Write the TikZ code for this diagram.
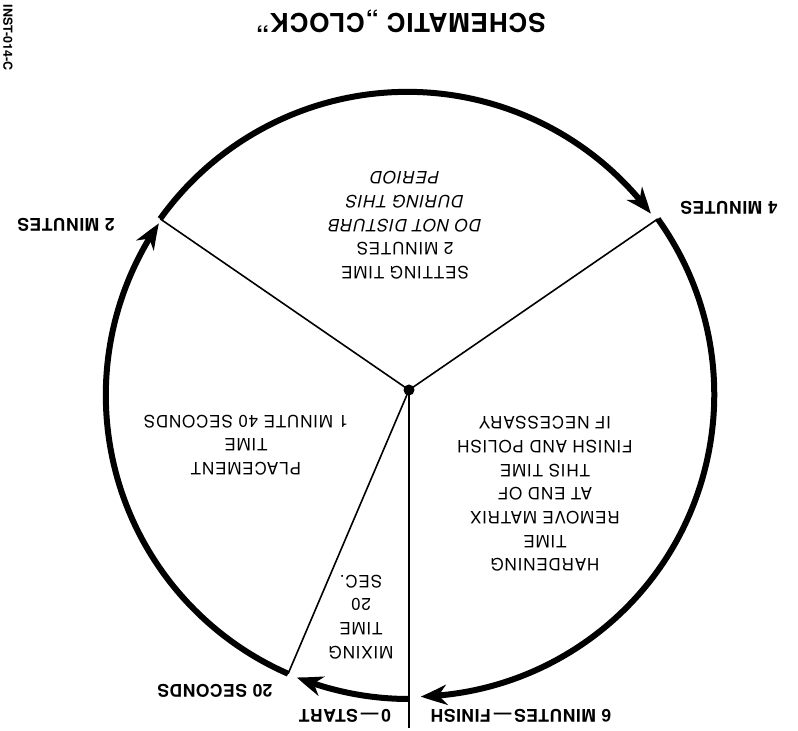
\documentclass[tikz,border=0pt]{standalone}
\usepackage{fontspec}
\setmainfont{TeX Gyre Heros}
\newfontfamily\bodyfont[LetterSpace=5]{TeX Gyre Heros}
\newfontfamily\lblfont[LetterSpace=3]{TeX Gyre Heros}
\usetikzlibrary{arrows.meta,bending}
\begin{document}
\begin{tikzpicture}[x=1pt,y=1pt,
  ring/.style={line width=6pt, -{Stealth[length=26pt,width=20pt,inset=8pt,bend]}},
  spoke/.style={line width=1.6pt},
  lbl/.style={rotate=180, font=\lblfont\fontsize{17.5}{21}\selectfont\bfseries, inner sep=0pt},
  body/.style={rotate=180, align=center, font=\bodyfont\fontsize{17}{23.7}\selectfont, inner sep=0pt}]
\useasboundingbox (0,0) rectangle (798,731);
\coordinate (c) at (409,334);
\coordinate (hub) at (409,341);
\coordinate (p0) at ([shift={(270:302)}]c);
\coordinate (p20) at ([shift={(246.4:302)}]c);
\coordinate (p2) at ([shift={(144.4:306)}]c);
\coordinate (p4) at ([shift={(35.6:306)}]c);
\coordinate (vend) at (409,3);
% spokes
\draw[spoke] (hub) -- (vend);
\draw[spoke] (hub) -- (p20);
\draw[spoke] (hub) -- (p2);
\draw[spoke] (hub) -- (p4);
\fill (hub) circle[radius=5.5];
% ring arcs
\draw[ring] (p0) arc[start angle=270, end angle=248.2, radius=302];
\draw[ring] (p20) arc[start angle=246.4, end angle=145.6, radius=304];
\draw[ring] (p2) arc[start angle=144.4, end angle=36.8, radius=304];
\draw[ring] (p4) arc[start angle=35.6, end angle=-88.4, radius=302];
% title and reference
\node[rotate=180, font=\lblfont\fontsize{26}{30}\selectfont\bfseries, inner sep=0pt] (title) at (401,710) {SCHEMATIC „CLOCK”};
\node[rotate=-90, font=\fontsize{12.5}{15}\selectfont\bfseries, inner sep=0pt] (ref) at (8,693) {INST-014-C};
% time labels
\node[lbl] (l2) at (66,506) {2 MINUTES};
\node[lbl] (l4) at (729,523) {4 MINUTES};
\node[lbl] (l20) at (215,40) {20 SECONDS};
\node[lbl] (l0) at (345,15) {0\,—\,START};
\node[lbl] (l6) at (521,15) {6 MINUTES\,—\,FINISH};
% sector texts
\node[body] (setting) at (405,505.5) {SETTING TIME\\2 MINUTES\\\itshape DO NOT DISTURB\\\itshape DURING THIS\\\itshape PERIOD};
\node[body] (hard) at (545,237) {HARDENING\\TIME\\REMOVE MATRIX\\AT END OF\\THIS TIME\\FINISH AND POLISH\\IF NECESSARY};
\node[body] (place) at (246,286) {PLACEMENT\\TIME\\1 MINUTE 40 SECONDS};
\node[body] (mix) at (361,114) {MIXING\\TIME\\20\\SEC.};
\end{tikzpicture}
\end{document}
